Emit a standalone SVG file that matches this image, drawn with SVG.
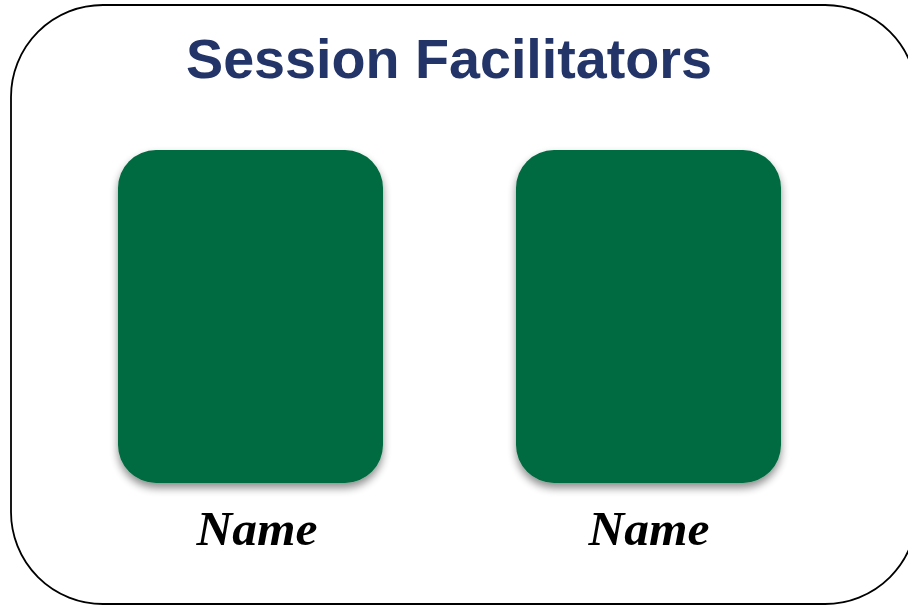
<svg xmlns="http://www.w3.org/2000/svg" width="908" height="606" viewBox="0 0 908 606">
<defs>
<filter id="sh" x="-10%" y="-10%" width="120%" height="125%">
<feGaussianBlur in="SourceAlpha" stdDeviation="4"/>
<feOffset dx="0" dy="5"/>
<feComponentTransfer><feFuncA type="linear" slope="0.45"/></feComponentTransfer>
<feMerge><feMergeNode/><feMergeNode in="SourceGraphic"/></feMerge>
</filter>
<style>
.card{fill:#006B3F;filter:url(#sh)}
.title{font-family:"Liberation Sans",Arial,sans-serif;font-weight:bold;font-size:55px;fill:#233468}
.name{font-family:"Liberation Serif","DejaVu Serif",serif;font-style:italic;font-weight:bold;font-size:48px;fill:#000}
</style>
</defs>
<rect id="frame" x="11" y="5" width="906" height="599" rx="92" ry="92" fill="#fff" stroke="#000" stroke-width="1.8"/>
<text class="title" x="449" y="78" text-anchor="middle" textLength="526" lengthAdjust="spacingAndGlyphs">Session Facilitators</text>
<g id="facilitator1">
<rect class="card" x="118" y="150" width="265" height="333" rx="38" ry="38"/>
<text class="name" x="257" y="545" text-anchor="middle" textLength="121" lengthAdjust="spacingAndGlyphs">Name</text>
</g>
<g id="facilitator2">
<rect class="card" x="516" y="150" width="265" height="333" rx="38" ry="38"/>
<text class="name" x="649" y="545" text-anchor="middle" textLength="121" lengthAdjust="spacingAndGlyphs">Name</text>
</g>
<g id="connectors"/>
</svg>
